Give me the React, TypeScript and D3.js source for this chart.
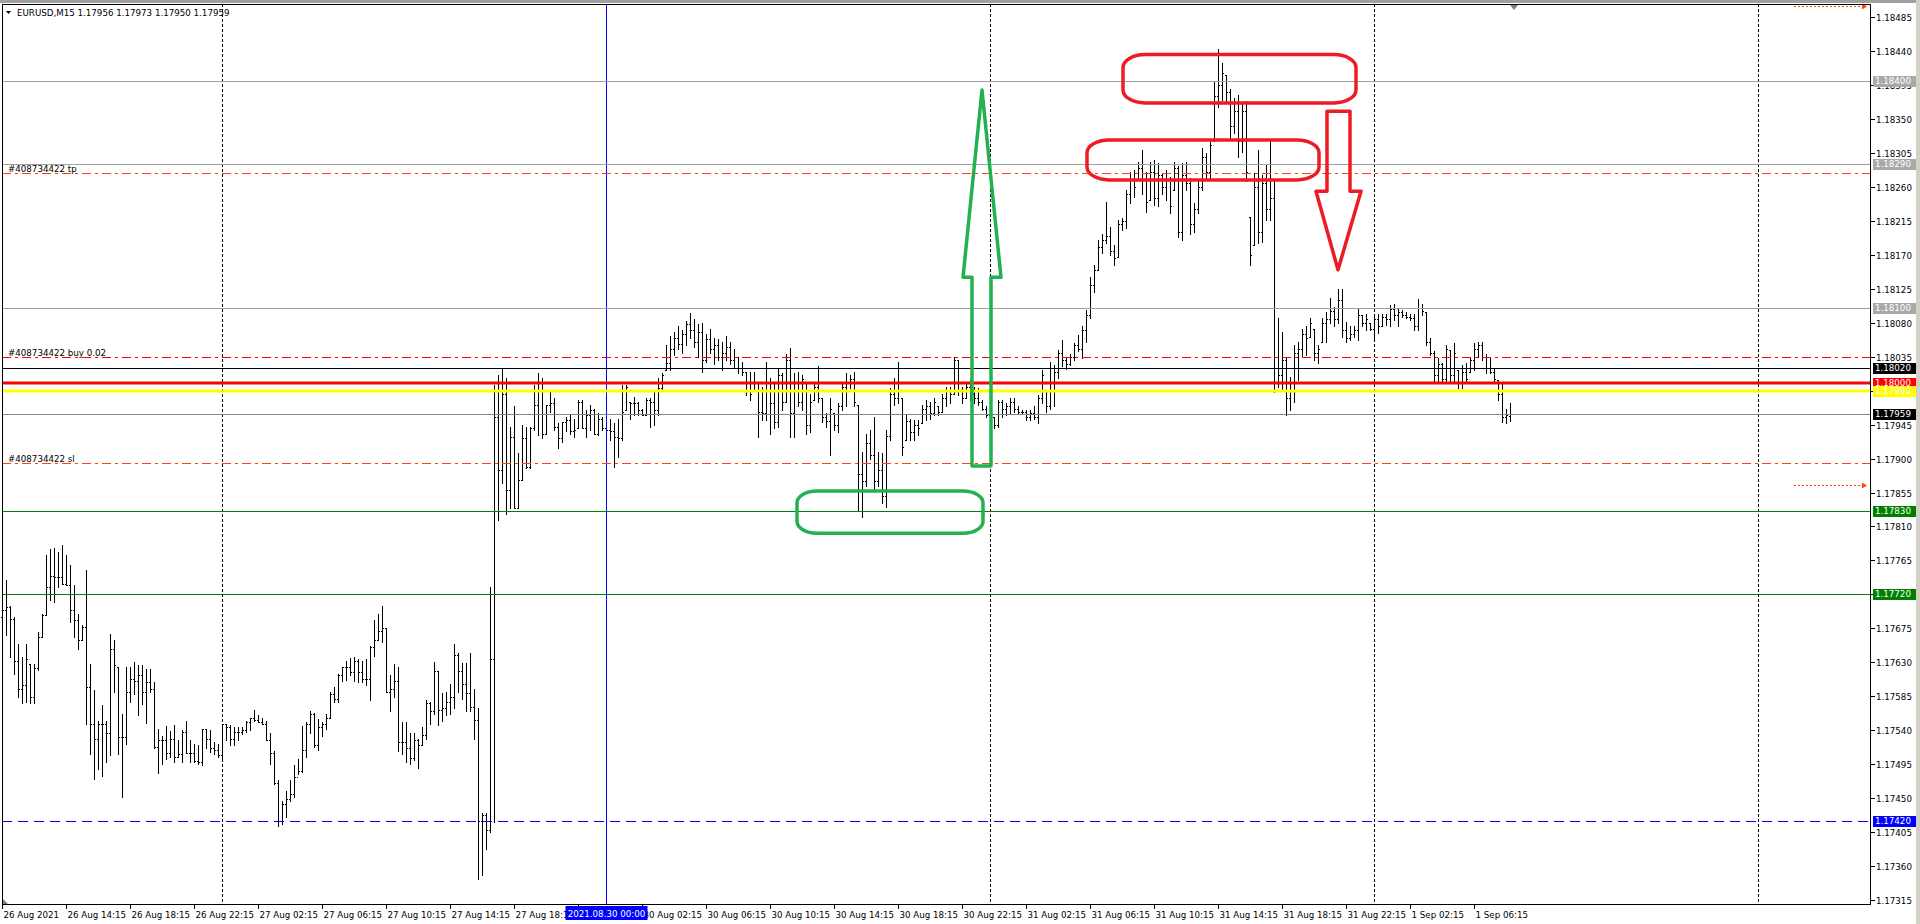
import React, { useEffect } from 'react'
import * as d3 from 'd3'

const W = 1920
const H = 924
const BASE = 1.17

// EURUSD M15 bars, in points above 1.17000; bar 0 = 26 Aug 10:15
const highs = [
  708, 739, 705, 690, 655, 637, 655, 628, 628, 670,
  694, 772, 780, 782, 776, 785, 772, 759, 732, 694,
  679, 752, 628, 593, 553, 573, 553, 668, 660, 624,
  561, 624, 624, 630, 626, 627, 621, 621, 604, 542,
  533, 546, 539, 547, 527, 541, 552, 527, 522, 520,
  542, 542, 540, 525, 522, 549, 549, 547, 544, 544,
  545, 553, 557, 567, 560, 557, 553, 537, 513, 474,
  447, 460, 474, 494, 502, 546, 551, 566, 563, 555,
  551, 562, 591, 597, 615, 624, 632, 636, 637, 634,
  632, 634, 652, 686, 694, 705, 675, 613, 628, 624,
  551, 551, 536, 536, 529, 545, 580, 578, 631, 618,
  589, 591, 602, 655, 642, 629, 629, 642, 595, 569,
  430, 430, 730, 997, 1011, 1020, 1006, 942, 969, 907,
  944, 942, 942, 997, 1013, 1006, 971, 991, 980, 947,
  949, 955, 958, 953, 977, 977, 964, 971, 966, 960,
  955, 947, 953, 947, 953, 997, 997, 975, 982, 975,
  966, 980, 980, 991, 1006, 1013, 1050, 1062, 1068, 1075,
  1070, 1082, 1093, 1085, 1078, 1080, 1065, 1072, 1060, 1058,
  1055, 1062, 1055, 1045, 1035, 1028, 1015, 1015, 1015, 1002,
  995, 1028, 1006, 1000, 1019, 1013, 1039, 1046, 1013, 1015,
  1011, 1000, 986, 1002, 1022, 980, 960, 980, 960, 973,
  1002, 1013, 1011, 1015, 971, 909, 933, 938, 955, 909,
  907, 938, 993, 1006, 1028, 980, 958, 953, 951, 951,
  971, 977, 975, 980, 969, 986, 995, 995, 1035, 1030,
  995, 1000, 1004, 995, 993, 977, 969, 958, 955, 977,
  977, 973, 980, 980, 969, 964, 964, 964, 969, 984,
  1017, 991, 1028, 1024, 1044, 1057, 1035, 1039, 1053, 1064,
  1075, 1097, 1141, 1156, 1189, 1198, 1240, 1207, 1183, 1216,
  1218, 1256, 1280, 1282, 1293, 1309, 1280, 1293, 1295, 1291,
  1278, 1282, 1273, 1293, 1287, 1291, 1293, 1271, 1238, 1269,
  1311, 1304, 1322, 1399, 1443, 1424, 1408, 1390, 1377, 1382,
  1371, 1373, 1220, 1278, 1309, 1276, 1289, 1320, 1267, 1086,
  1068, 1035, 1008, 1050, 1055, 1072, 1075, 1086, 1072, 1050,
  1086, 1094, 1112, 1101, 1124, 1125, 1081, 1075, 1075, 1099,
  1090, 1092, 1079, 1090, 1092, 1092, 1092, 1103, 1105, 1099,
  1097, 1094, 1092, 1092, 1111, 1105, 1094, 1059, 1042, 1033,
  1026, 1050, 1044, 1053, 1017, 1024, 1026, 1035, 1053, 1055,
  1055, 1039, 1033, 1019, 1004, 1000, 966, 973,
]

const lows = [
  637, 666, 637, 615, 584, 576, 577, 576, 576, 620,
  663, 693, 712, 710, 730, 734, 732, 683, 663, 648,
  659, 549, 509, 476, 489, 480, 498, 507, 591, 509,
  452, 522, 577, 588, 560, 575, 550, 591, 517, 483,
  496, 502, 505, 498, 505, 498, 510, 498, 498, 496,
  494, 516, 511, 509, 505, 502, 527, 520, 520, 527,
  535, 538, 540, 553, 551, 549, 527, 496, 469, 413,
  416, 425, 447, 452, 482, 485, 505, 536, 518, 514,
  533, 542, 557, 577, 577, 606, 607, 613, 605, 604,
  604, 600, 580, 639, 659, 657, 591, 566, 584, 513,
  509, 498, 496, 501, 490, 520, 529, 549, 562, 547,
  553, 560, 562, 569, 591, 582, 565, 565, 529, 343,
  348, 383, 406, 419, 819, 867, 827, 834, 834, 834,
  872, 887, 887, 938, 931, 927, 933, 962, 938, 914,
  922, 936, 933, 929, 940, 940, 929, 938, 933, 931,
  938, 931, 925, 889, 902, 925, 964, 953, 958, 958,
  958, 958, 942, 944, 958, 989, 1017, 1017, 1037, 1045,
  1040, 1050, 1060, 1048, 1035, 1015, 1028, 1040, 1025, 1030,
  1017, 1030, 1025, 1020, 1013, 1010, 984, 977, 990, 929,
  951, 951, 933, 940, 942, 964, 975, 929, 929, 969,
  964, 933, 935, 977, 975, 949, 942, 905, 938, 935,
  964, 969, 993, 969, 832, 823, 863, 900, 860, 863,
  841, 836, 924, 971, 973, 905, 924, 924, 924, 931,
  947, 951, 953, 958, 958, 962, 969, 973, 986, 984,
  973, 980, 977, 973, 971, 964, 955, 955, 940, 942,
  955, 958, 960, 962, 960, 960, 951, 951, 953, 947,
  973, 962, 966, 969, 1006, 1022, 1019, 1024, 1030, 1042,
  1033, 1055, 1086, 1121, 1150, 1172, 1185, 1170, 1156, 1167,
  1203, 1205, 1238, 1247, 1269, 1251, 1227, 1242, 1236, 1234,
  1251, 1242, 1225, 1256, 1194, 1189, 1256, 1198, 1200, 1225,
  1256, 1271, 1271, 1320, 1366, 1375, 1371, 1324, 1331, 1300,
  1306, 1267, 1156, 1183, 1185, 1187, 1216, 1216, 988, 995,
  991, 958, 964, 975, 1004, 1035, 1037, 1061, 1030, 1026,
  1055, 1055, 1079, 1075, 1079, 1061, 1055, 1057, 1061, 1057,
  1075, 1070, 1070, 1059, 1066, 1075, 1077, 1075, 1083, 1075,
  1088, 1086, 1083, 1070, 1070, 1090, 1050, 1037, 1002, 1002,
  1000, 1002, 1000, 1002, 993, 993, 1002, 1015, 1017, 1035,
  1030, 1013, 1013, 1000, 977, 949, 947, 950,
]

const opens = [
  690, 700, 703, 688, 632, 595, 600, 628, 584, 623,
  663, 693, 730, 745, 743, 743, 734, 733, 700, 686,
  659, 677, 597, 549, 529, 549, 549, 536, 648, 624,
  531, 531, 591, 608, 606, 613, 591, 604, 595, 518,
  527, 527, 510, 529, 505, 509, 538, 510, 510, 500,
  498, 542, 529, 516, 514, 507, 549, 544, 529, 538,
  538, 540, 551, 557, 554, 551, 549, 527, 510, 470,
  420, 443, 449, 456, 478, 486, 514, 549, 561, 520,
  544, 549, 557, 588, 582, 613, 624, 624, 617, 632,
  617, 608, 608, 650, 660, 672, 675, 591, 595, 606,
  525, 525, 516, 503, 527, 520, 534, 576, 565, 618,
  567, 569, 578, 584, 640, 618, 602, 589, 571, 554,
  420, 428, 408, 635, 955, 885, 986, 858, 929, 834,
  872, 927, 889, 940, 971, 1000, 933, 971, 973, 942,
  927, 949, 951, 936, 940, 975, 940, 958, 964, 933,
  953, 940, 938, 936, 929, 927, 964, 975, 973, 973,
  964, 958, 977, 975, 964, 993, 1017, 1026, 1045, 1060,
  1052, 1065, 1078, 1070, 1055, 1068, 1030, 1058, 1045, 1050,
  1035, 1040, 1048, 1030, 1035, 1020, 1015, 989, 990, 1000,
  962, 960, 1002, 973, 949, 1010, 975, 1030, 960, 1000,
  975, 1000, 945, 977, 995, 980, 955, 950, 960, 945,
  970, 995, 1000, 1005, 971, 880, 870, 920, 905, 870,
  885, 850, 930, 985, 980, 980, 924, 950, 935, 945,
  947, 965, 970, 960, 969, 962, 980, 990, 986, 1030,
  990, 980, 995, 985, 980, 975, 966, 958, 955, 945,
  975, 965, 970, 975, 965, 962, 961, 955, 960, 955,
  980, 991, 970, 1020, 1015, 1040, 1030, 1025, 1035, 1050,
  1045, 1070, 1090, 1130, 1150, 1180, 1190, 1195, 1175, 1167,
  1210, 1215, 1250, 1270, 1269, 1285, 1270, 1242, 1280, 1245,
  1275, 1260, 1270, 1256, 1285, 1200, 1275, 1265, 1210, 1230,
  1260, 1300, 1280, 1320, 1380, 1395, 1408, 1385, 1340, 1360,
  1320, 1360, 1220, 1183, 1260, 1200, 1265, 1230, 1245, 1000,
  1010, 1030, 980, 990, 1040, 1045, 1065, 1061, 1072, 1040,
  1055, 1080, 1085, 1095, 1085, 1110, 1070, 1060, 1065, 1070,
  1090, 1080, 1079, 1072, 1085, 1075, 1088, 1085, 1098, 1090,
  1094, 1090, 1088, 1086, 1075, 1100, 1094, 1055, 1040, 1010,
  1025, 1005, 1044, 1010, 1017, 1000, 1015, 1015, 1030, 1045,
  1050, 1035, 1020, 1015, 1004, 985, 955, 956,
]

const closes = [
  700, 703, 688, 632, 595, 600, 635, 584, 623, 663,
  693, 730, 745, 743, 743, 734, 733, 700, 686, 659,
  677, 597, 549, 529, 549, 549, 536, 648, 626, 531,
  531, 591, 608, 606, 613, 591, 604, 595, 518, 527,
  527, 510, 529, 505, 509, 538, 510, 510, 500, 498,
  542, 529, 516, 514, 507, 549, 544, 529, 538, 538,
  540, 551, 557, 554, 551, 549, 527, 510, 470, 420,
  443, 449, 456, 478, 486, 514, 549, 561, 520, 544,
  549, 557, 588, 582, 613, 624, 624, 617, 632, 617,
  608, 608, 650, 660, 672, 675, 591, 595, 606, 525,
  525, 516, 503, 527, 520, 534, 576, 565, 618, 567,
  569, 578, 584, 640, 618, 602, 589, 571, 554, 420,
  428, 408, 635, 955, 885, 986, 858, 929, 834, 872,
  927, 889, 940, 971, 1000, 933, 971, 973, 942, 927,
  949, 951, 936, 938, 975, 940, 958, 964, 933, 953,
  940, 938, 936, 929, 927, 962, 995, 973, 973, 964,
  958, 977, 975, 964, 993, 1011, 1026, 1045, 1060, 1052,
  1065, 1078, 1070, 1055, 1068, 1030, 1058, 1045, 1050, 1035,
  1040, 1048, 1030, 1035, 1020, 1015, 989, 986, 1000, 962,
  960, 1002, 973, 949, 1010, 975, 1030, 960, 1000, 975,
  1005, 945, 975, 995, 980, 955, 950, 965, 945, 970,
  995, 1000, 1005, 975, 880, 870, 920, 905, 870, 885,
  850, 930, 985, 980, 990, 915, 950, 935, 945, 940,
  965, 970, 960, 975, 962, 980, 990, 985, 1030, 990,
  980, 995, 985, 980, 975, 966, 958, 956, 945, 975,
  965, 970, 975, 965, 962, 961, 955, 960, 955, 980,
  1010, 970, 1020, 1015, 1040, 1030, 1025, 1035, 1050, 1045,
  1070, 1090, 1130, 1150, 1180, 1190, 1195, 1175, 1165, 1210,
  1215, 1250, 1270, 1260, 1285, 1270, 1240, 1280, 1245, 1275,
  1260, 1270, 1235, 1285, 1200, 1275, 1265, 1210, 1230, 1260,
  1300, 1280, 1315, 1380, 1395, 1410, 1385, 1340, 1360, 1320,
  1360, 1280, 1170, 1260, 1200, 1265, 1230, 1245, 1000, 1010,
  1030, 980, 990, 1040, 1045, 1065, 1060, 1080, 1040, 1045,
  1080, 1085, 1095, 1085, 1110, 1070, 1060, 1065, 1070, 1090,
  1080, 1085, 1072, 1085, 1075, 1088, 1085, 1098, 1090, 1094,
  1090, 1088, 1086, 1075, 1100, 1095, 1055, 1040, 1010, 1025,
  1005, 1045, 1010, 1040, 1000, 1015, 1005, 1030, 1045, 1050,
  1035, 1020, 1015, 1005, 985, 955, 958, 959,
]

// one label every 16 bars, starting at bar 0
const timeTickLabels = [
  '26 Aug 2021', '26 Aug 14:15', '26 Aug 18:15', '26 Aug 22:15', '27 Aug 02:15', '27 Aug 06:15',
  '27 Aug 10:15', '27 Aug 14:15', '27 Aug 18:15', '27 Aug 22:15', '30 Aug 02:15', '30 Aug 06:15',
  '30 Aug 10:15', '30 Aug 14:15', '30 Aug 18:15', '30 Aug 22:15', '31 Aug 02:15', '31 Aug 06:15',
  '31 Aug 10:15', '31 Aug 14:15', '31 Aug 18:15', '31 Aug 22:15', '1 Sep 02:15', '1 Sep 06:15',
]

const priceTickLabels = [
  '1.17315', '1.17360', '1.17405', '1.17450', '1.17495', '1.17540', '1.17585', '1.17630', '1.17675',
  '1.17720', '1.17765', '1.17810', '1.17855', '1.17900', '1.17945', '1.17990', '1.18035', '1.18080',
  '1.18125', '1.18170', '1.18215', '1.18260', '1.18305', '1.18350', '1.18395', '1.18440', '1.18485',
]

const header = 'EURUSD,M15  1.17956 1.17973 1.17950 1.17959'

// daily period separators (bar index)
const separatorBars = [55, 151, 247, 343, 439]
const vlineBar = 151
const vlineLabel = '2021.08.30 00:00'

// horizontal line objects
const levelPrices = [1.184, 1.1829, 1.181, 1.1802, 1.18, 1.1799, 1.17959, 1.1783, 1.1772, 1.1742]
const levelKinds = ['gray', 'gray', 'gray', 'black', 'red', 'yellow', 'bid', 'green', 'green', 'blue']

// open order lines
const orderPrices = [1.18278, 1.18035, 1.17894]
const orderLabels = ['#408734422 tp', '#408734422 buy 0.02', '#408734422 sl']
const orderKinds = ['stop', 'open', 'stop']

// dotted arrows on the right edge
const markerPrices = [1.185, 1.17865]
const markerBars = [448, 466]

// hand drawings, as [bar index, price]
const greenBox = [[198.75, 1.17857], [245.25, 1.17801]]
const redBoxes = [
  [[280.25, 1.18435], [338.5, 1.18371]],
  [[271.25, 1.18322], [329.25, 1.18269]],
]
const upArrow = [
  [242.5, 1.1789], [242.5, 1.1814], [240.25, 1.1814], [245, 1.18388],
  [249.75, 1.1814], [247.25, 1.1814], [247.25, 1.1789],
]
const downArrow = [
  [331.25, 1.1836], [331.25, 1.18254], [328.5, 1.18254], [334, 1.1815],
  [339.75, 1.18254], [337, 1.18254], [337, 1.1836],
]

const FONT = "Tahoma, 'DejaVu Sans', sans-serif"
const FS = 8.7
const PLOT = { left: 2, top: 4, right: 1870, bottom: 904 }

const levelStyle: Record<string, { stroke: string; width: number; dash?: string; box: string }> = {
  gray: { stroke: '#a0a0a0', width: 1, box: '#a9a9a9' },
  black: { stroke: '#000000', width: 1, box: '#000000' },
  red: { stroke: '#ff0000', width: 3, box: '#ff0000' },
  yellow: { stroke: '#ffff00', width: 3, box: '#ffff00' },
  bid: { stroke: '#778899', width: 1, box: '#000000' },
  green: { stroke: '#008000', width: 1, box: '#008000' },
  blue: { stroke: '#0000ff', width: 1, dash: '10,6', box: '#0000ff' },
}

export default function App() {
  useEffect(() => {
    document.body.style.margin = '0'
  }, [])

  const x = d3.scaleLinear().domain([0, 466]).range([2, 1866])
  const y = d3.scaleLinear().domain([1.1731, 1.18502]).range([PLOT.bottom, PLOT.top])
  const px = (i: number) => Math.round(x(i)) + 0.5
  const py = (p: number) => Math.round(y(p)) + 0.5
  const pt = (v: number) => BASE + v / 100000

  const bars = highs.map((h, i) => ({
    i,
    h: pt(h),
    l: pt(lows[i]),
    o: pt(opens[i]),
    c: pt(closes[i]),
  }))

  const poly = (pts: number[][]) => pts.map(([b, p]) => `${x(b)},${y(p)}`).join(' ')

  return (
    <svg width={W} height={H} style={{ display: 'block', background: '#fff' }} fontFamily={FONT}>
      <style>{'body{margin:0}'}</style>
      {/* window frame */}
      <rect x={0} y={0} width={W} height={3} fill="#a0a0a0" />
      <rect x={1916} y={0} width={4} height={H} fill="#d4d0c8" />

      {/* period separators */}
      {separatorBars.map(b => (
        <line key={b} x1={px(b)} x2={px(b)} y1={PLOT.top} y2={PLOT.bottom} stroke="#000" strokeDasharray="3,2" />
      ))}

      {/* bars */}
      <g stroke="#000" shapeRendering="crispEdges">
        {bars.map(d => {
          const cx = px(d.i)
          const yo = py(d.o)
          const yc = py(d.c)
          return (
            <g key={d.i}>
              <line x1={cx} x2={cx} y1={Math.round(y(d.h))} y2={Math.round(y(d.l)) + 1} />
              <line x1={cx - 1.5} x2={cx - 0.5} y1={yo} y2={yo} />
              <line x1={cx + 0.5} x2={cx + 1.5} y1={yc} y2={yc} />
            </g>
          )
        })}
      </g>

      {/* vertical line object */}
      <line x1={px(vlineBar)} x2={px(vlineBar)} y1={PLOT.top} y2={PLOT.bottom} stroke="#0000ff" />

      {/* order lines */}
      {orderPrices.map((p, k) => (
        <g key={k}>
          <line
            x1={PLOT.left}
            x2={PLOT.right}
            y1={py(p)}
            y2={py(p)}
            stroke={orderKinds[k] === 'open' ? '#ff0000' : '#ff4500'}
            strokeDasharray="9,4,3,4"
          />
          <text x={8} y={py(p) - 2} fontSize={FS} fill="#000">
            {orderLabels[k]}
          </text>
        </g>
      ))}

      {/* horizontal line objects */}
      {levelPrices.map((p, k) => {
        const s = levelStyle[levelKinds[k]]
        return (
          <line
            key={k}
            x1={PLOT.left}
            x2={PLOT.right}
            y1={s.width === 3 ? Math.round(y(p)) : py(p)}
            y2={s.width === 3 ? Math.round(y(p)) : py(p)}
            stroke={s.stroke}
            strokeWidth={s.width}
            strokeDasharray={s.dash}
          />
        )
      })}

      {/* right-edge markers */}
      {markerPrices.map((p, k) => (
        <g key={k}>
          <line x1={x(markerBars[0])} x2={x(markerBars[1]) - 3} y1={py(p)} y2={py(p)} stroke="#ff4500" strokeDasharray="2,2" />
          <path
            d={`M${x(markerBars[1]) - 4},${py(p) - 3}L${x(markerBars[1]) + 1},${py(p)}L${x(markerBars[1]) - 4},${py(p) + 3}Z`}
            fill="#ff4500"
          />
        </g>
      ))}

      {/* frame */}
      <g stroke="#000" fill="none" shapeRendering="crispEdges">
        <line x1={PLOT.left + 0.5} x2={PLOT.left + 0.5} y1={PLOT.top} y2={PLOT.bottom} />
        <line x1={PLOT.left} x2={PLOT.right} y1={PLOT.top + 0.5} y2={PLOT.top + 0.5} />
        <line x1={PLOT.right + 0.5} x2={PLOT.right + 0.5} y1={PLOT.top} y2={PLOT.bottom + 1} />
        <line x1={PLOT.left} x2={PLOT.right + 1} y1={PLOT.bottom + 0.5} y2={PLOT.bottom + 0.5} />
      </g>
      <path d={`M${x(378) - 4},${PLOT.top + 1}L${x(378) + 4},${PLOT.top + 1}L${x(378)},${PLOT.top + 6}Z`} fill="#808080" />
      <path d={`M3,${PLOT.bottom - 5}L3,${PLOT.bottom}L8,${PLOT.bottom}Z`} fill="#808080" />

      {/* price axis */}
      <g fontSize={FS} fill="#000">
        {priceTickLabels.map(t => (
          <g key={t}>
            <line x1={PLOT.right + 1} x2={PLOT.right + 5} y1={py(+t)} y2={py(+t)} stroke="#000" />
            <text x={1876} y={py(+t) + 3}>{t}</text>
          </g>
        ))}
        {levelPrices.map((p, k) => {
          const s = levelStyle[levelKinds[k]]
          const yy = Math.round(y(p))
          return (
            <g key={k}>
              <rect x={1873} y={yy - 5} width={43} height={11} fill={s.box} />
              <text x={1875} y={yy + 3} fill="#fff">
                {p.toFixed(5)}
              </text>
            </g>
          )
        })}
      </g>

      {/* time axis */}
      <g fontSize={FS} fill="#000">
        {timeTickLabels.map((t, k) => (
          <g key={t}>
            <line x1={px(k * 16)} x2={px(k * 16)} y1={PLOT.bottom + 1} y2={PLOT.bottom + 5} stroke="#000" />
            <text x={px(k * 16) + 1} y={918}>{t}</text>
          </g>
        ))}
        <rect x={px(vlineBar) - 41} y={906} width={82} height={14} fill="#0000ff" />
        <text x={px(vlineBar)} y={917} textAnchor="middle" fill="#fff">
          {vlineLabel}
        </text>
      </g>

      {/* header */}
      <path d="M6,11L11,11L8.5,14Z" fill="#000" />
      <text x={17} y={16} fontSize={FS} fill="#000">
        {header}
      </text>

      {/* hand drawings */}
      <g fill="none" strokeWidth={3.5} strokeLinejoin="round">
        <rect
          x={x(greenBox[0][0])}
          y={y(greenBox[0][1])}
          width={x(greenBox[1][0]) - x(greenBox[0][0])}
          height={y(greenBox[1][1]) - y(greenBox[0][1])}
          rx={20}
          ry={12}
          stroke="#22b14c"
        />
        <polygon points={poly(upArrow)} stroke="#22b14c" />
        {redBoxes.map((b, k) => (
          <rect
            key={k}
            x={x(b[0][0])}
            y={y(b[0][1])}
            width={x(b[1][0]) - x(b[0][0])}
            height={y(b[1][1]) - y(b[0][1])}
            rx={22}
            ry={13}
            stroke="#ed1c24"
          />
        ))}
        <polygon points={poly(downArrow)} stroke="#ed1c24" />
      </g>
    </svg>
  )
}
